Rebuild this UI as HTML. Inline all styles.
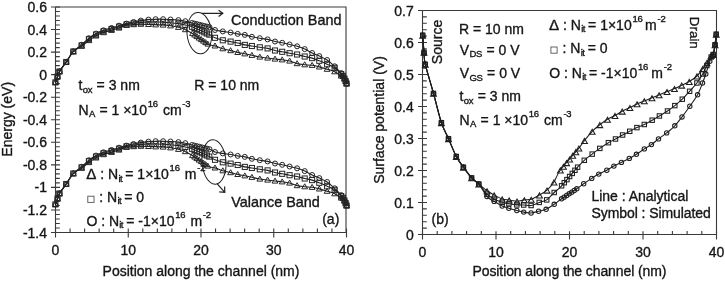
<!DOCTYPE html>
<html><head><meta charset="utf-8"><style>
html,body{margin:0;padding:0;background:#fff;}
body{width:725px;height:281px;overflow:hidden;font-family:"Liberation Sans",sans-serif;}
svg{display:block;}
text{stroke:#151515;stroke-width:0.35px;}
svg{will-change:transform;}
</style></head><body>
<svg width="725" height="281" viewBox="0 0 725 281" font-family="Liberation Sans, sans-serif">
<rect width="725" height="281" fill="#ffffff"/>
<g>
<path d="M55.5,7.0 H346.0 V232.5" fill="none" stroke="#3a3a3a" stroke-width="1.1"/>
<path d="M55.5,7.0 V232.5 H346.5" fill="none" stroke="#3a3a3a" stroke-width="1.1"/>
<path d="M51.0,7.00 H60.0 M55.5,11.51 H59.8 M55.5,16.02 H59.8 M55.5,20.53 H59.8 M55.5,25.04 H59.8 M51.0,29.55 H60.0 M55.5,34.06 H59.8 M55.5,38.57 H59.8 M55.5,43.08 H59.8 M55.5,47.59 H59.8 M51.0,52.10 H60.0 M55.5,56.61 H59.8 M55.5,61.12 H59.8 M55.5,65.63 H59.8 M55.5,70.14 H59.8 M51.0,74.65 H60.0 M55.5,79.16 H59.8 M55.5,83.67 H59.8 M55.5,88.18 H59.8 M55.5,92.69 H59.8 M51.0,97.20 H60.0 M55.5,101.71 H59.8 M55.5,106.22 H59.8 M55.5,110.73 H59.8 M55.5,115.24 H59.8 M51.0,119.75 H60.0 M55.5,124.26 H59.8 M55.5,128.77 H59.8 M55.5,133.28 H59.8 M55.5,137.79 H59.8 M51.0,142.30 H60.0 M55.5,146.81 H59.8 M55.5,151.32 H59.8 M55.5,155.83 H59.8 M55.5,160.34 H59.8 M51.0,164.85 H60.0 M55.5,169.36 H59.8 M55.5,173.87 H59.8 M55.5,178.38 H59.8 M55.5,182.89 H59.8 M51.0,187.40 H60.0 M55.5,191.91 H59.8 M55.5,196.42 H59.8 M55.5,200.93 H59.8 M55.5,205.44 H59.8 M51.0,209.95 H60.0 M55.5,214.46 H59.8 M55.5,218.97 H59.8 M55.5,223.48 H59.8 M55.5,227.99 H59.8 M51.0,232.50 H60.0 M55.50,228.5 V237.5 M70.05,228.5 V232.5 M84.60,228.5 V232.5 M99.15,228.5 V232.5 M113.70,228.5 V232.5 M128.25,228.5 V237.5 M142.80,228.5 V232.5 M157.35,228.5 V232.5 M171.90,228.5 V232.5 M186.45,228.5 V232.5 M201.00,228.5 V237.5 M215.55,228.5 V232.5 M230.10,228.5 V232.5 M244.65,228.5 V232.5 M259.20,228.5 V232.5 M273.75,228.5 V237.5 M288.30,228.5 V232.5 M302.85,228.5 V232.5 M317.40,228.5 V232.5 M331.95,228.5 V232.5 M346.50,228.5 V237.5" stroke="#3a3a3a" stroke-width="1.1" fill="none"/>
</g>
<g fill="#161616">
<text x="47.00" y="12.00" font-size="14" text-anchor="end" >0.6</text>
<text x="47.00" y="34.55" font-size="14" text-anchor="end" >0.4</text>
<text x="47.00" y="57.10" font-size="14" text-anchor="end" >0.2</text>
<text x="47.00" y="79.65" font-size="14" text-anchor="end" >0</text>
<text x="47.00" y="102.20" font-size="14" text-anchor="end" >-0.2</text>
<text x="47.00" y="124.75" font-size="14" text-anchor="end" >-0.4</text>
<text x="47.00" y="147.30" font-size="14" text-anchor="end" >-0.6</text>
<text x="47.00" y="169.85" font-size="14" text-anchor="end" >-0.8</text>
<text x="47.00" y="192.40" font-size="14" text-anchor="end" >-1</text>
<text x="47.00" y="214.95" font-size="14" text-anchor="end" >-1.2</text>
<text x="47.00" y="237.50" font-size="14" text-anchor="end" >-1.4</text>
<text x="55.50" y="255.20" font-size="14" text-anchor="middle" >0</text>
<text x="128.25" y="255.20" font-size="14" text-anchor="middle" >10</text>
<text x="201.00" y="255.20" font-size="14" text-anchor="middle" >20</text>
<text x="273.75" y="255.20" font-size="14" text-anchor="middle" >30</text>
<text x="346.50" y="255.20" font-size="14" text-anchor="middle" >40</text>
<text x="201.00" y="276.00" font-size="14" text-anchor="middle" >Position along the channel (nm)</text>
<text x="0.00" y="0.00" font-size="14" text-anchor="middle" transform="translate(11.8,119.3) rotate(-90)">Energy (eV)</text>
</g>
<path d="M55.40,82.40 C55.75,81.43 56.82,78.42 57.50,76.60 C58.18,74.78 58.05,73.93 59.50,71.50 C60.95,69.07 63.90,65.35 66.20,62.00 C68.50,58.65 70.73,54.29 73.30,51.42 C75.87,48.55 79.00,47.00 81.60,44.80 C84.20,42.60 86.50,40.07 88.90,38.20 C91.30,36.33 93.57,34.92 96.00,33.60 C98.43,32.28 100.92,31.23 103.50,30.30 C106.08,29.37 108.92,28.77 111.50,28.00 C114.08,27.23 116.50,26.43 119.00,25.70 C121.50,24.97 124.07,24.22 126.50,23.60 C128.93,22.98 131.20,22.50 133.60,22.00 C136.00,21.50 138.42,21.00 140.90,20.60 C143.38,20.20 146.05,19.83 148.50,19.60 C150.95,19.37 153.17,19.27 155.60,19.20 C158.03,19.13 160.62,19.15 163.10,19.20 C165.58,19.25 167.95,19.35 170.50,19.50 C173.05,19.65 175.93,19.82 178.40,20.10 C180.87,20.38 183.03,20.72 185.30,21.20 C187.57,21.68 187.97,22.00 192.00,23.00 C196.03,24.00 205.67,26.03 209.50,27.20 C213.33,28.37 212.78,29.30 215.00,30.00 C217.22,30.70 220.20,30.98 222.80,31.40 C225.40,31.82 228.12,32.08 230.60,32.50 C233.08,32.92 235.33,33.50 237.70,33.90 C240.07,34.30 242.43,34.42 244.80,34.90 C247.17,35.38 249.40,36.25 251.90,36.80 C254.40,37.35 257.18,37.77 259.80,38.20 C262.42,38.63 265.07,38.85 267.60,39.40 C270.13,39.95 272.57,40.93 275.00,41.50 C277.43,42.07 279.77,42.30 282.20,42.80 C284.63,43.30 287.12,43.92 289.60,44.50 C292.08,45.08 294.58,45.53 297.10,46.30 C299.62,47.07 302.20,47.98 304.70,49.10 C307.20,50.22 309.67,51.83 312.10,53.00 C314.53,54.17 316.80,54.93 319.30,56.10 C321.80,57.27 324.55,58.30 327.10,60.00 C329.65,61.70 332.25,64.12 334.60,66.30 C336.95,68.48 339.80,71.52 341.20,73.10 C342.60,74.68 342.45,74.88 343.00,75.80 C343.55,76.72 344.05,77.70 344.50,78.60 C344.95,79.50 345.35,80.37 345.70,81.20 C346.05,82.03 346.45,83.20 346.60,83.60" fill="none" stroke="#1e1e1e" stroke-width="1.1"/>
<g fill="none" stroke="#262626" stroke-width="1.0"><circle cx="55.40" cy="82.40" r="2.50"/><circle cx="57.50" cy="76.60" r="2.50"/><circle cx="59.50" cy="71.50" r="2.50"/><circle cx="66.20" cy="62.00" r="2.50"/><circle cx="73.30" cy="51.42" r="2.50"/><circle cx="81.60" cy="44.80" r="2.50"/><circle cx="88.90" cy="38.20" r="2.50"/><circle cx="96.00" cy="33.60" r="2.50"/><circle cx="103.50" cy="30.30" r="2.50"/><circle cx="111.50" cy="28.00" r="2.50"/><circle cx="119.00" cy="25.70" r="2.50"/><circle cx="126.50" cy="23.60" r="2.50"/><circle cx="133.60" cy="22.00" r="2.50"/><circle cx="140.90" cy="20.60" r="2.50"/><circle cx="148.50" cy="19.60" r="2.50"/><circle cx="155.60" cy="19.20" r="2.50"/><circle cx="163.10" cy="19.20" r="2.50"/><circle cx="170.50" cy="19.50" r="2.50"/><circle cx="178.40" cy="20.10" r="2.50"/><circle cx="185.30" cy="21.20" r="2.50"/><circle cx="192.00" cy="23.00" r="2.50"/><circle cx="194.50" cy="23.60" r="2.50"/><circle cx="197.00" cy="24.20" r="2.50"/><circle cx="199.50" cy="24.80" r="2.50"/><circle cx="202.00" cy="25.40" r="2.50"/><circle cx="204.50" cy="26.00" r="2.50"/><circle cx="207.00" cy="26.60" r="2.50"/><circle cx="209.50" cy="27.20" r="2.50"/><circle cx="215.00" cy="30.00" r="2.50"/><circle cx="222.80" cy="31.40" r="2.50"/><circle cx="230.60" cy="32.50" r="2.50"/><circle cx="237.70" cy="33.90" r="2.50"/><circle cx="244.80" cy="34.90" r="2.50"/><circle cx="251.90" cy="36.80" r="2.50"/><circle cx="259.80" cy="38.20" r="2.50"/><circle cx="267.60" cy="39.40" r="2.50"/><circle cx="275.00" cy="41.50" r="2.50"/><circle cx="282.20" cy="42.80" r="2.50"/><circle cx="289.60" cy="44.50" r="2.50"/><circle cx="297.10" cy="46.30" r="2.50"/><circle cx="304.70" cy="49.10" r="2.50"/><circle cx="312.10" cy="53.00" r="2.50"/><circle cx="319.30" cy="56.10" r="2.50"/><circle cx="327.10" cy="60.00" r="2.50"/><circle cx="334.60" cy="66.30" r="2.50"/><circle cx="341.20" cy="73.10" r="2.50"/><circle cx="343.00" cy="75.80" r="2.50"/><circle cx="344.50" cy="78.60" r="2.50"/><circle cx="345.70" cy="81.20" r="2.50"/><circle cx="346.60" cy="83.60" r="2.50"/></g>
<path d="M55.40,82.40 C55.75,81.43 56.82,78.42 57.50,76.60 C58.18,74.78 58.05,73.93 59.50,71.50 C60.95,69.07 63.90,65.33 66.20,62.00 C68.50,58.67 70.73,54.27 73.30,51.50 C75.87,48.73 79.00,47.45 81.60,45.40 C84.20,43.35 86.50,41.00 88.90,39.20 C91.30,37.40 93.57,35.92 96.00,34.60 C98.43,33.28 100.92,32.23 103.50,31.30 C106.08,30.37 108.92,29.77 111.50,29.00 C114.08,28.23 116.50,27.47 119.00,26.70 C121.50,25.93 124.07,24.97 126.50,24.40 C128.93,23.83 131.20,23.63 133.60,23.30 C136.00,22.97 138.42,22.63 140.90,22.40 C143.38,22.17 146.05,21.97 148.50,21.90 C150.95,21.83 153.17,21.95 155.60,22.00 C158.03,22.05 160.62,22.08 163.10,22.20 C165.58,22.32 167.95,22.47 170.50,22.70 C173.05,22.93 175.93,23.22 178.40,23.60 C180.87,23.98 183.03,24.47 185.30,25.00 C187.57,25.53 188.00,25.20 192.00,26.80 C196.00,28.40 205.47,32.77 209.30,34.60 C213.13,36.43 212.75,36.85 215.00,37.80 C217.25,38.75 220.20,39.67 222.80,40.30 C225.40,40.93 228.12,41.15 230.60,41.60 C233.08,42.05 235.33,42.45 237.70,43.00 C240.07,43.55 242.43,44.40 244.80,44.90 C247.17,45.40 249.40,45.60 251.90,46.00 C254.40,46.40 257.18,46.90 259.80,47.30 C262.42,47.70 265.07,47.87 267.60,48.40 C270.13,48.93 272.57,49.93 275.00,50.50 C277.43,51.07 279.77,51.35 282.20,51.80 C284.63,52.25 287.12,52.75 289.60,53.20 C292.08,53.65 294.58,53.95 297.10,54.50 C299.62,55.05 302.20,55.90 304.70,56.50 C307.20,57.10 309.67,57.38 312.10,58.10 C314.53,58.82 316.80,59.77 319.30,60.80 C321.80,61.83 324.55,63.13 327.10,64.30 C329.65,65.47 332.25,66.17 334.60,67.80 C336.95,69.43 339.80,72.77 341.20,74.10 C342.60,75.43 342.45,75.05 343.00,75.80 C343.55,76.55 344.05,77.70 344.50,78.60 C344.95,79.50 345.35,80.37 345.70,81.20 C346.05,82.03 346.45,83.20 346.60,83.60" fill="none" stroke="#1e1e1e" stroke-width="1.1"/>
<g fill="none" stroke="#262626" stroke-width="1.0"><rect x="52.85" y="79.85" width="5.10" height="5.10"/><rect x="54.95" y="74.05" width="5.10" height="5.10"/><rect x="56.95" y="68.95" width="5.10" height="5.10"/><rect x="63.65" y="59.45" width="5.10" height="5.10"/><rect x="70.75" y="48.95" width="5.10" height="5.10"/><rect x="79.05" y="42.85" width="5.10" height="5.10"/><rect x="86.35" y="36.65" width="5.10" height="5.10"/><rect x="93.45" y="32.05" width="5.10" height="5.10"/><rect x="100.95" y="28.75" width="5.10" height="5.10"/><rect x="108.95" y="26.45" width="5.10" height="5.10"/><rect x="116.45" y="24.15" width="5.10" height="5.10"/><rect x="123.95" y="21.85" width="5.10" height="5.10"/><rect x="131.05" y="20.75" width="5.10" height="5.10"/><rect x="138.35" y="19.85" width="5.10" height="5.10"/><rect x="145.95" y="19.35" width="5.10" height="5.10"/><rect x="153.05" y="19.45" width="5.10" height="5.10"/><rect x="160.55" y="19.65" width="5.10" height="5.10"/><rect x="167.95" y="20.15" width="5.10" height="5.10"/><rect x="175.85" y="21.05" width="5.10" height="5.10"/><rect x="182.75" y="22.45" width="5.10" height="5.10"/><rect x="189.45" y="24.25" width="5.10" height="5.10"/><rect x="191.92" y="25.36" width="5.10" height="5.10"/><rect x="194.39" y="26.48" width="5.10" height="5.10"/><rect x="196.86" y="27.59" width="5.10" height="5.10"/><rect x="199.34" y="28.71" width="5.10" height="5.10"/><rect x="201.81" y="29.82" width="5.10" height="5.10"/><rect x="204.28" y="30.94" width="5.10" height="5.10"/><rect x="206.75" y="32.05" width="5.10" height="5.10"/><rect x="212.45" y="35.25" width="5.10" height="5.10"/><rect x="220.25" y="37.75" width="5.10" height="5.10"/><rect x="228.05" y="39.05" width="5.10" height="5.10"/><rect x="235.15" y="40.45" width="5.10" height="5.10"/><rect x="242.25" y="42.35" width="5.10" height="5.10"/><rect x="249.35" y="43.45" width="5.10" height="5.10"/><rect x="257.25" y="44.75" width="5.10" height="5.10"/><rect x="265.05" y="45.85" width="5.10" height="5.10"/><rect x="272.45" y="47.95" width="5.10" height="5.10"/><rect x="279.65" y="49.25" width="5.10" height="5.10"/><rect x="287.05" y="50.65" width="5.10" height="5.10"/><rect x="294.55" y="51.95" width="5.10" height="5.10"/><rect x="302.15" y="53.95" width="5.10" height="5.10"/><rect x="309.55" y="55.55" width="5.10" height="5.10"/><rect x="316.75" y="58.25" width="5.10" height="5.10"/><rect x="324.55" y="61.75" width="5.10" height="5.10"/><rect x="332.05" y="65.25" width="5.10" height="5.10"/><rect x="338.65" y="71.55" width="5.10" height="5.10"/><rect x="340.45" y="73.25" width="5.10" height="5.10"/><rect x="341.95" y="76.05" width="5.10" height="5.10"/><rect x="343.15" y="78.65" width="5.10" height="5.10"/><rect x="344.05" y="81.05" width="5.10" height="5.10"/></g>
<path d="M55.40,82.40 C55.75,81.43 56.82,78.42 57.50,76.60 C58.18,74.78 58.05,73.93 59.50,71.50 C60.95,69.07 63.90,65.32 66.20,62.00 C68.50,58.68 70.73,54.24 73.30,51.61 C75.87,48.97 79.00,48.03 81.60,46.18 C84.20,44.33 86.50,42.21 88.90,40.50 C91.30,38.79 93.57,37.22 96.00,35.90 C98.43,34.58 100.92,33.53 103.50,32.60 C106.08,31.67 108.92,31.07 111.50,30.30 C114.08,29.53 116.50,28.83 119.00,28.00 C121.50,27.17 124.07,25.87 126.50,25.30 C128.93,24.73 131.20,24.78 133.60,24.60 C136.00,24.42 138.42,24.23 140.90,24.20 C143.38,24.17 146.05,24.30 148.50,24.40 C150.95,24.50 153.17,24.70 155.60,24.80 C158.03,24.90 160.62,24.83 163.10,25.00 C165.58,25.17 167.95,25.42 170.50,25.80 C173.05,26.18 175.93,26.67 178.40,27.30 C180.87,27.93 182.95,28.57 185.30,29.60 C187.65,30.63 188.75,31.10 192.50,33.50 C196.25,35.90 204.05,41.93 207.80,44.00 C211.55,46.07 212.50,45.12 215.00,45.90 C217.50,46.68 220.20,47.92 222.80,48.70 C225.40,49.48 228.12,49.98 230.60,50.60 C233.08,51.22 235.33,51.87 237.70,52.40 C240.07,52.93 242.43,53.32 244.80,53.80 C247.17,54.28 249.40,54.77 251.90,55.30 C254.40,55.83 257.18,56.55 259.80,57.00 C262.42,57.45 265.07,57.67 267.60,58.00 C270.13,58.33 272.57,58.70 275.00,59.00 C277.43,59.30 279.77,59.47 282.20,59.80 C284.63,60.13 287.12,60.37 289.60,61.00 C292.08,61.63 294.58,62.98 297.10,63.60 C299.62,64.22 302.20,64.42 304.70,64.70 C307.20,64.98 309.67,64.93 312.10,65.30 C314.53,65.67 316.80,66.25 319.30,66.90 C321.80,67.55 324.55,68.40 327.10,69.20 C329.65,70.00 332.25,70.57 334.60,71.70 C336.95,72.83 339.80,75.32 341.20,76.00 C342.60,76.68 342.45,75.37 343.00,75.80 C343.55,76.23 344.05,77.70 344.50,78.60 C344.95,79.50 345.35,80.37 345.70,81.20 C346.05,82.03 346.45,83.20 346.60,83.60" fill="none" stroke="#1e1e1e" stroke-width="1.1"/>
<g fill="none" stroke="#262626" stroke-width="1.0"><path d="M55.40,79.50 L58.30,84.50 L52.50,84.50 Z"/><path d="M57.50,73.70 L60.40,78.70 L54.60,78.70 Z"/><path d="M59.50,68.60 L62.40,73.60 L56.60,73.60 Z"/><path d="M66.20,59.10 L69.10,64.10 L63.30,64.10 Z"/><path d="M73.30,48.71 L76.20,53.71 L70.40,53.71 Z"/><path d="M81.60,43.28 L84.50,48.28 L78.70,48.28 Z"/><path d="M88.90,37.60 L91.80,42.60 L86.00,42.60 Z"/><path d="M96.00,33.00 L98.90,38.00 L93.10,38.00 Z"/><path d="M103.50,29.70 L106.40,34.70 L100.60,34.70 Z"/><path d="M111.50,27.40 L114.40,32.40 L108.60,32.40 Z"/><path d="M119.00,25.10 L121.90,30.10 L116.10,30.10 Z"/><path d="M126.50,22.40 L129.40,27.40 L123.60,27.40 Z"/><path d="M133.60,21.70 L136.50,26.70 L130.70,26.70 Z"/><path d="M140.90,21.30 L143.80,26.30 L138.00,26.30 Z"/><path d="M148.50,21.50 L151.40,26.50 L145.60,26.50 Z"/><path d="M155.60,21.90 L158.50,26.90 L152.70,26.90 Z"/><path d="M163.10,22.10 L166.00,27.10 L160.20,27.10 Z"/><path d="M170.50,22.90 L173.40,27.90 L167.60,27.90 Z"/><path d="M178.40,24.40 L181.30,29.40 L175.50,29.40 Z"/><path d="M185.30,26.70 L188.20,31.70 L182.40,31.70 Z"/><path d="M192.50,30.60 L195.40,35.60 L189.60,35.60 Z"/><path d="M194.69,32.10 L197.59,37.10 L191.79,37.10 Z"/><path d="M196.87,33.60 L199.77,38.60 L193.97,38.60 Z"/><path d="M199.06,35.10 L201.96,40.10 L196.16,40.10 Z"/><path d="M201.24,36.60 L204.14,41.60 L198.34,41.60 Z"/><path d="M203.43,38.10 L206.33,43.10 L200.53,43.10 Z"/><path d="M205.61,39.60 L208.51,44.60 L202.71,44.60 Z"/><path d="M207.80,41.10 L210.70,46.10 L204.90,46.10 Z"/><path d="M215.00,43.00 L217.90,48.00 L212.10,48.00 Z"/><path d="M222.80,45.80 L225.70,50.80 L219.90,50.80 Z"/><path d="M230.60,47.70 L233.50,52.70 L227.70,52.70 Z"/><path d="M237.70,49.50 L240.60,54.50 L234.80,54.50 Z"/><path d="M244.80,50.90 L247.70,55.90 L241.90,55.90 Z"/><path d="M251.90,52.40 L254.80,57.40 L249.00,57.40 Z"/><path d="M259.80,54.10 L262.70,59.10 L256.90,59.10 Z"/><path d="M267.60,55.10 L270.50,60.10 L264.70,60.10 Z"/><path d="M275.00,56.10 L277.90,61.10 L272.10,61.10 Z"/><path d="M282.20,56.90 L285.10,61.90 L279.30,61.90 Z"/><path d="M289.60,58.10 L292.50,63.10 L286.70,63.10 Z"/><path d="M297.10,60.70 L300.00,65.70 L294.20,65.70 Z"/><path d="M304.70,61.80 L307.60,66.80 L301.80,66.80 Z"/><path d="M312.10,62.40 L315.00,67.40 L309.20,67.40 Z"/><path d="M319.30,64.00 L322.20,69.00 L316.40,69.00 Z"/><path d="M327.10,66.30 L330.00,71.30 L324.20,71.30 Z"/><path d="M334.60,68.80 L337.50,73.80 L331.70,73.80 Z"/><path d="M341.20,73.10 L344.10,78.10 L338.30,78.10 Z"/><path d="M343.00,72.90 L345.90,77.90 L340.10,77.90 Z"/><path d="M344.50,75.70 L347.40,80.70 L341.60,80.70 Z"/><path d="M345.70,78.30 L348.60,83.30 L342.80,83.30 Z"/><path d="M346.60,80.70 L349.50,85.70 L343.70,85.70 Z"/></g>
<path d="M55.40,204.40 C55.75,203.43 56.82,200.42 57.50,198.60 C58.18,196.78 58.05,195.93 59.50,193.50 C60.95,191.07 63.90,187.35 66.20,184.00 C68.50,180.65 70.73,176.29 73.30,173.42 C75.87,170.55 79.00,169.00 81.60,166.80 C84.20,164.60 86.50,162.07 88.90,160.20 C91.30,158.33 93.57,156.92 96.00,155.60 C98.43,154.28 100.92,153.23 103.50,152.30 C106.08,151.37 108.92,150.77 111.50,150.00 C114.08,149.23 116.50,148.43 119.00,147.70 C121.50,146.97 124.07,146.22 126.50,145.60 C128.93,144.98 131.20,144.50 133.60,144.00 C136.00,143.50 138.42,143.00 140.90,142.60 C143.38,142.20 146.05,141.83 148.50,141.60 C150.95,141.37 153.17,141.27 155.60,141.20 C158.03,141.13 160.62,141.15 163.10,141.20 C165.58,141.25 167.95,141.35 170.50,141.50 C173.05,141.65 175.93,141.82 178.40,142.10 C180.87,142.38 183.03,142.72 185.30,143.20 C187.57,143.68 187.97,144.00 192.00,145.00 C196.03,146.00 205.67,148.03 209.50,149.20 C213.33,150.37 212.78,151.30 215.00,152.00 C217.22,152.70 220.20,152.98 222.80,153.40 C225.40,153.82 228.12,154.08 230.60,154.50 C233.08,154.92 235.33,155.50 237.70,155.90 C240.07,156.30 242.43,156.42 244.80,156.90 C247.17,157.38 249.40,158.25 251.90,158.80 C254.40,159.35 257.18,159.77 259.80,160.20 C262.42,160.63 265.07,160.85 267.60,161.40 C270.13,161.95 272.57,162.93 275.00,163.50 C277.43,164.07 279.77,164.30 282.20,164.80 C284.63,165.30 287.12,165.92 289.60,166.50 C292.08,167.08 294.58,167.53 297.10,168.30 C299.62,169.07 302.20,169.98 304.70,171.10 C307.20,172.22 309.67,173.83 312.10,175.00 C314.53,176.17 316.80,176.93 319.30,178.10 C321.80,179.27 324.55,180.30 327.10,182.00 C329.65,183.70 332.25,186.12 334.60,188.30 C336.95,190.48 339.80,193.52 341.20,195.10 C342.60,196.68 342.45,196.88 343.00,197.80 C343.55,198.72 344.05,199.70 344.50,200.60 C344.95,201.50 345.35,202.37 345.70,203.20 C346.05,204.03 346.45,205.20 346.60,205.60" fill="none" stroke="#1e1e1e" stroke-width="1.1"/>
<g fill="none" stroke="#262626" stroke-width="1.0"><circle cx="55.40" cy="204.40" r="2.50"/><circle cx="57.50" cy="198.60" r="2.50"/><circle cx="59.50" cy="193.50" r="2.50"/><circle cx="66.20" cy="184.00" r="2.50"/><circle cx="73.30" cy="173.42" r="2.50"/><circle cx="81.60" cy="166.80" r="2.50"/><circle cx="88.90" cy="160.20" r="2.50"/><circle cx="96.00" cy="155.60" r="2.50"/><circle cx="103.50" cy="152.30" r="2.50"/><circle cx="111.50" cy="150.00" r="2.50"/><circle cx="119.00" cy="147.70" r="2.50"/><circle cx="126.50" cy="145.60" r="2.50"/><circle cx="133.60" cy="144.00" r="2.50"/><circle cx="140.90" cy="142.60" r="2.50"/><circle cx="148.50" cy="141.60" r="2.50"/><circle cx="155.60" cy="141.20" r="2.50"/><circle cx="163.10" cy="141.20" r="2.50"/><circle cx="170.50" cy="141.50" r="2.50"/><circle cx="178.40" cy="142.10" r="2.50"/><circle cx="185.30" cy="143.20" r="2.50"/><circle cx="192.00" cy="145.00" r="2.50"/><circle cx="194.50" cy="145.60" r="2.50"/><circle cx="197.00" cy="146.20" r="2.50"/><circle cx="199.50" cy="146.80" r="2.50"/><circle cx="202.00" cy="147.40" r="2.50"/><circle cx="204.50" cy="148.00" r="2.50"/><circle cx="207.00" cy="148.60" r="2.50"/><circle cx="209.50" cy="149.20" r="2.50"/><circle cx="215.00" cy="152.00" r="2.50"/><circle cx="222.80" cy="153.40" r="2.50"/><circle cx="230.60" cy="154.50" r="2.50"/><circle cx="237.70" cy="155.90" r="2.50"/><circle cx="244.80" cy="156.90" r="2.50"/><circle cx="251.90" cy="158.80" r="2.50"/><circle cx="259.80" cy="160.20" r="2.50"/><circle cx="267.60" cy="161.40" r="2.50"/><circle cx="275.00" cy="163.50" r="2.50"/><circle cx="282.20" cy="164.80" r="2.50"/><circle cx="289.60" cy="166.50" r="2.50"/><circle cx="297.10" cy="168.30" r="2.50"/><circle cx="304.70" cy="171.10" r="2.50"/><circle cx="312.10" cy="175.00" r="2.50"/><circle cx="319.30" cy="178.10" r="2.50"/><circle cx="327.10" cy="182.00" r="2.50"/><circle cx="334.60" cy="188.30" r="2.50"/><circle cx="341.20" cy="195.10" r="2.50"/><circle cx="343.00" cy="197.80" r="2.50"/><circle cx="344.50" cy="200.60" r="2.50"/><circle cx="345.70" cy="203.20" r="2.50"/><circle cx="346.60" cy="205.60" r="2.50"/></g>
<path d="M55.40,204.40 C55.75,203.43 56.82,200.42 57.50,198.60 C58.18,196.78 58.05,195.93 59.50,193.50 C60.95,191.07 63.90,187.33 66.20,184.00 C68.50,180.67 70.73,176.27 73.30,173.50 C75.87,170.73 79.00,169.45 81.60,167.40 C84.20,165.35 86.50,163.00 88.90,161.20 C91.30,159.40 93.57,157.92 96.00,156.60 C98.43,155.28 100.92,154.23 103.50,153.30 C106.08,152.37 108.92,151.77 111.50,151.00 C114.08,150.23 116.50,149.47 119.00,148.70 C121.50,147.93 124.07,146.97 126.50,146.40 C128.93,145.83 131.20,145.63 133.60,145.30 C136.00,144.97 138.42,144.63 140.90,144.40 C143.38,144.17 146.05,143.97 148.50,143.90 C150.95,143.83 153.17,143.95 155.60,144.00 C158.03,144.05 160.62,144.08 163.10,144.20 C165.58,144.32 167.95,144.47 170.50,144.70 C173.05,144.93 175.93,145.22 178.40,145.60 C180.87,145.98 183.03,146.47 185.30,147.00 C187.57,147.53 188.00,147.20 192.00,148.80 C196.00,150.40 205.47,154.77 209.30,156.60 C213.13,158.43 212.75,158.85 215.00,159.80 C217.25,160.75 220.20,161.67 222.80,162.30 C225.40,162.93 228.12,163.15 230.60,163.60 C233.08,164.05 235.33,164.45 237.70,165.00 C240.07,165.55 242.43,166.40 244.80,166.90 C247.17,167.40 249.40,167.60 251.90,168.00 C254.40,168.40 257.18,168.90 259.80,169.30 C262.42,169.70 265.07,169.87 267.60,170.40 C270.13,170.93 272.57,171.93 275.00,172.50 C277.43,173.07 279.77,173.35 282.20,173.80 C284.63,174.25 287.12,174.75 289.60,175.20 C292.08,175.65 294.58,175.95 297.10,176.50 C299.62,177.05 302.20,177.90 304.70,178.50 C307.20,179.10 309.67,179.38 312.10,180.10 C314.53,180.82 316.80,181.77 319.30,182.80 C321.80,183.83 324.55,185.13 327.10,186.30 C329.65,187.47 332.25,188.17 334.60,189.80 C336.95,191.43 339.80,194.77 341.20,196.10 C342.60,197.43 342.45,197.05 343.00,197.80 C343.55,198.55 344.05,199.70 344.50,200.60 C344.95,201.50 345.35,202.37 345.70,203.20 C346.05,204.03 346.45,205.20 346.60,205.60" fill="none" stroke="#1e1e1e" stroke-width="1.1"/>
<g fill="none" stroke="#262626" stroke-width="1.0"><rect x="52.85" y="201.85" width="5.10" height="5.10"/><rect x="54.95" y="196.05" width="5.10" height="5.10"/><rect x="56.95" y="190.95" width="5.10" height="5.10"/><rect x="63.65" y="181.45" width="5.10" height="5.10"/><rect x="70.75" y="170.95" width="5.10" height="5.10"/><rect x="79.05" y="164.85" width="5.10" height="5.10"/><rect x="86.35" y="158.65" width="5.10" height="5.10"/><rect x="93.45" y="154.05" width="5.10" height="5.10"/><rect x="100.95" y="150.75" width="5.10" height="5.10"/><rect x="108.95" y="148.45" width="5.10" height="5.10"/><rect x="116.45" y="146.15" width="5.10" height="5.10"/><rect x="123.95" y="143.85" width="5.10" height="5.10"/><rect x="131.05" y="142.75" width="5.10" height="5.10"/><rect x="138.35" y="141.85" width="5.10" height="5.10"/><rect x="145.95" y="141.35" width="5.10" height="5.10"/><rect x="153.05" y="141.45" width="5.10" height="5.10"/><rect x="160.55" y="141.65" width="5.10" height="5.10"/><rect x="167.95" y="142.15" width="5.10" height="5.10"/><rect x="175.85" y="143.05" width="5.10" height="5.10"/><rect x="182.75" y="144.45" width="5.10" height="5.10"/><rect x="189.45" y="146.25" width="5.10" height="5.10"/><rect x="191.92" y="147.36" width="5.10" height="5.10"/><rect x="194.39" y="148.48" width="5.10" height="5.10"/><rect x="196.86" y="149.59" width="5.10" height="5.10"/><rect x="199.34" y="150.71" width="5.10" height="5.10"/><rect x="201.81" y="151.82" width="5.10" height="5.10"/><rect x="204.28" y="152.94" width="5.10" height="5.10"/><rect x="206.75" y="154.05" width="5.10" height="5.10"/><rect x="212.45" y="157.25" width="5.10" height="5.10"/><rect x="220.25" y="159.75" width="5.10" height="5.10"/><rect x="228.05" y="161.05" width="5.10" height="5.10"/><rect x="235.15" y="162.45" width="5.10" height="5.10"/><rect x="242.25" y="164.35" width="5.10" height="5.10"/><rect x="249.35" y="165.45" width="5.10" height="5.10"/><rect x="257.25" y="166.75" width="5.10" height="5.10"/><rect x="265.05" y="167.85" width="5.10" height="5.10"/><rect x="272.45" y="169.95" width="5.10" height="5.10"/><rect x="279.65" y="171.25" width="5.10" height="5.10"/><rect x="287.05" y="172.65" width="5.10" height="5.10"/><rect x="294.55" y="173.95" width="5.10" height="5.10"/><rect x="302.15" y="175.95" width="5.10" height="5.10"/><rect x="309.55" y="177.55" width="5.10" height="5.10"/><rect x="316.75" y="180.25" width="5.10" height="5.10"/><rect x="324.55" y="183.75" width="5.10" height="5.10"/><rect x="332.05" y="187.25" width="5.10" height="5.10"/><rect x="338.65" y="193.55" width="5.10" height="5.10"/><rect x="340.45" y="195.25" width="5.10" height="5.10"/><rect x="341.95" y="198.05" width="5.10" height="5.10"/><rect x="343.15" y="200.65" width="5.10" height="5.10"/><rect x="344.05" y="203.05" width="5.10" height="5.10"/></g>
<path d="M55.40,204.40 C55.75,203.43 56.82,200.42 57.50,198.60 C58.18,196.78 58.05,195.93 59.50,193.50 C60.95,191.07 63.90,187.32 66.20,184.00 C68.50,180.68 70.73,176.24 73.30,173.61 C75.87,170.97 79.00,170.03 81.60,168.18 C84.20,166.33 86.50,164.21 88.90,162.50 C91.30,160.79 93.57,159.22 96.00,157.90 C98.43,156.58 100.92,155.53 103.50,154.60 C106.08,153.67 108.92,153.07 111.50,152.30 C114.08,151.53 116.50,150.83 119.00,150.00 C121.50,149.17 124.07,147.87 126.50,147.30 C128.93,146.73 131.20,146.78 133.60,146.60 C136.00,146.42 138.42,146.23 140.90,146.20 C143.38,146.17 146.05,146.30 148.50,146.40 C150.95,146.50 153.17,146.70 155.60,146.80 C158.03,146.90 160.62,146.83 163.10,147.00 C165.58,147.17 167.95,147.42 170.50,147.80 C173.05,148.18 175.93,148.67 178.40,149.30 C180.87,149.93 182.95,150.57 185.30,151.60 C187.65,152.63 188.75,153.10 192.50,155.50 C196.25,157.90 204.05,163.93 207.80,166.00 C211.55,168.07 212.50,167.12 215.00,167.90 C217.50,168.68 220.20,169.92 222.80,170.70 C225.40,171.48 228.12,171.98 230.60,172.60 C233.08,173.22 235.33,173.87 237.70,174.40 C240.07,174.93 242.43,175.32 244.80,175.80 C247.17,176.28 249.40,176.77 251.90,177.30 C254.40,177.83 257.18,178.55 259.80,179.00 C262.42,179.45 265.07,179.67 267.60,180.00 C270.13,180.33 272.57,180.70 275.00,181.00 C277.43,181.30 279.77,181.47 282.20,181.80 C284.63,182.13 287.12,182.37 289.60,183.00 C292.08,183.63 294.58,184.98 297.10,185.60 C299.62,186.22 302.20,186.42 304.70,186.70 C307.20,186.98 309.67,186.93 312.10,187.30 C314.53,187.67 316.80,188.25 319.30,188.90 C321.80,189.55 324.55,190.40 327.10,191.20 C329.65,192.00 332.25,192.57 334.60,193.70 C336.95,194.83 339.80,197.32 341.20,198.00 C342.60,198.68 342.45,197.37 343.00,197.80 C343.55,198.23 344.05,199.70 344.50,200.60 C344.95,201.50 345.35,202.37 345.70,203.20 C346.05,204.03 346.45,205.20 346.60,205.60" fill="none" stroke="#1e1e1e" stroke-width="1.1"/>
<g fill="none" stroke="#262626" stroke-width="1.0"><path d="M55.40,201.50 L58.30,206.50 L52.50,206.50 Z"/><path d="M57.50,195.70 L60.40,200.70 L54.60,200.70 Z"/><path d="M59.50,190.60 L62.40,195.60 L56.60,195.60 Z"/><path d="M66.20,181.10 L69.10,186.10 L63.30,186.10 Z"/><path d="M73.30,170.71 L76.20,175.71 L70.40,175.71 Z"/><path d="M81.60,165.28 L84.50,170.28 L78.70,170.28 Z"/><path d="M88.90,159.60 L91.80,164.60 L86.00,164.60 Z"/><path d="M96.00,155.00 L98.90,160.00 L93.10,160.00 Z"/><path d="M103.50,151.70 L106.40,156.70 L100.60,156.70 Z"/><path d="M111.50,149.40 L114.40,154.40 L108.60,154.40 Z"/><path d="M119.00,147.10 L121.90,152.10 L116.10,152.10 Z"/><path d="M126.50,144.40 L129.40,149.40 L123.60,149.40 Z"/><path d="M133.60,143.70 L136.50,148.70 L130.70,148.70 Z"/><path d="M140.90,143.30 L143.80,148.30 L138.00,148.30 Z"/><path d="M148.50,143.50 L151.40,148.50 L145.60,148.50 Z"/><path d="M155.60,143.90 L158.50,148.90 L152.70,148.90 Z"/><path d="M163.10,144.10 L166.00,149.10 L160.20,149.10 Z"/><path d="M170.50,144.90 L173.40,149.90 L167.60,149.90 Z"/><path d="M178.40,146.40 L181.30,151.40 L175.50,151.40 Z"/><path d="M185.30,148.70 L188.20,153.70 L182.40,153.70 Z"/><path d="M192.50,152.60 L195.40,157.60 L189.60,157.60 Z"/><path d="M194.69,154.10 L197.59,159.10 L191.79,159.10 Z"/><path d="M196.87,155.60 L199.77,160.60 L193.97,160.60 Z"/><path d="M199.06,157.10 L201.96,162.10 L196.16,162.10 Z"/><path d="M201.24,158.60 L204.14,163.60 L198.34,163.60 Z"/><path d="M203.43,160.10 L206.33,165.10 L200.53,165.10 Z"/><path d="M205.61,161.60 L208.51,166.60 L202.71,166.60 Z"/><path d="M207.80,163.10 L210.70,168.10 L204.90,168.10 Z"/><path d="M215.00,165.00 L217.90,170.00 L212.10,170.00 Z"/><path d="M222.80,167.80 L225.70,172.80 L219.90,172.80 Z"/><path d="M230.60,169.70 L233.50,174.70 L227.70,174.70 Z"/><path d="M237.70,171.50 L240.60,176.50 L234.80,176.50 Z"/><path d="M244.80,172.90 L247.70,177.90 L241.90,177.90 Z"/><path d="M251.90,174.40 L254.80,179.40 L249.00,179.40 Z"/><path d="M259.80,176.10 L262.70,181.10 L256.90,181.10 Z"/><path d="M267.60,177.10 L270.50,182.10 L264.70,182.10 Z"/><path d="M275.00,178.10 L277.90,183.10 L272.10,183.10 Z"/><path d="M282.20,178.90 L285.10,183.90 L279.30,183.90 Z"/><path d="M289.60,180.10 L292.50,185.10 L286.70,185.10 Z"/><path d="M297.10,182.70 L300.00,187.70 L294.20,187.70 Z"/><path d="M304.70,183.80 L307.60,188.80 L301.80,188.80 Z"/><path d="M312.10,184.40 L315.00,189.40 L309.20,189.40 Z"/><path d="M319.30,186.00 L322.20,191.00 L316.40,191.00 Z"/><path d="M327.10,188.30 L330.00,193.30 L324.20,193.30 Z"/><path d="M334.60,190.80 L337.50,195.80 L331.70,195.80 Z"/><path d="M341.20,195.10 L344.10,200.10 L338.30,200.10 Z"/><path d="M343.00,194.90 L345.90,199.90 L340.10,199.90 Z"/><path d="M344.50,197.70 L347.40,202.70 L341.60,202.70 Z"/><path d="M345.70,200.30 L348.60,205.30 L342.80,205.30 Z"/><path d="M346.60,202.70 L349.50,207.70 L343.70,207.70 Z"/></g>
<g fill="none" stroke="#222" stroke-width="1">
<ellipse cx="199.3" cy="33.2" rx="12.3" ry="20.7" transform="rotate(-5 199.3 33.2)"/>
<path d="M201.5,13.3 H222.5 M218.6,10.3 L222.8,13.3 L218.6,16.6" stroke-width="1.25"/>
<ellipse cx="214" cy="162" rx="12" ry="22.2" transform="rotate(-4 214 162)"/>
<path d="M217.2,183.8 L224.6,192.2 M224.6,186.4 L224.8,192.4 L219.2,191.8" stroke-width="1.2"/>
</g>
<g fill="#161616">
<text x="231.00" y="24.80" font-size="14.4" text-anchor="start" >Conduction Band</text>
<text x="231.30" y="206.90" font-size="14.4" text-anchor="start" >Valance Band</text>
<text x="322.20" y="224.00" font-size="14" text-anchor="start" >(a)</text>
<text x="78.50" y="90.40" font-size="14" text-anchor="start" ><tspan dy="0.00">t</tspan><tspan dy="2.20" font-size="9.5" letter-spacing="-0.3" dx="0.3">ox</tspan><tspan dy="-2.20" dx="0.6"> = 3 nm</tspan></text>
<text x="194.30" y="90.40" font-size="14" text-anchor="start" >R = 10 nm</text>
<text x="78.50" y="114.80" font-size="14" text-anchor="start" ><tspan dy="0.00">N</tspan><tspan dy="2.20" font-size="9.5" letter-spacing="-0.3" dx="0.3">A</tspan><tspan dy="-2.20" dx="0.6"> = 1 ×10</tspan><tspan dy="-8.00" font-size="9.5" letter-spacing="-0.2" dx="0.7">16</tspan><tspan dy="8.00" dx="1.2"> cm</tspan><tspan dy="-8.00" font-size="9.5" letter-spacing="-0.2" dx="0.7">-3</tspan></text>
<text x="86.20" y="179.30" font-size="14" text-anchor="start" ><tspan dy="0.00"><tspan font-size="15.2">Δ</tspan> : N</tspan><tspan dy="2.20" font-size="9.5" letter-spacing="-0.6" dx="0.3">it</tspan><tspan dy="-2.20" dx="-0.6"> = 1×10</tspan><tspan dy="-8.00" font-size="9.5" letter-spacing="-0.2" dx="0.7">16</tspan><tspan dy="8.00" dx="1.2"> m</tspan><tspan dy="-8.00" font-size="9.5" letter-spacing="-0.2" dx="0.7">-2</tspan></text>
<text x="99.20" y="202.20" font-size="14" text-anchor="start" ><tspan dy="0.00">: N</tspan><tspan dy="2.20" font-size="9.5" letter-spacing="-0.6" dx="0.3">it</tspan><tspan dy="-2.20" dx="-0.6"> = 0</tspan></text>
<text x="86.40" y="226.20" font-size="14" text-anchor="start" ><tspan dy="0.00">O : N</tspan><tspan dy="2.20" font-size="9.5" letter-spacing="-0.6" dx="0.3">it</tspan><tspan dy="-2.20" dx="-0.6"> = -1×10</tspan><tspan dy="-8.00" font-size="9.5" letter-spacing="-0.2" dx="0.7">16</tspan><tspan dy="8.00" dx="1.2"> m</tspan><tspan dy="-8.00" font-size="9.5" letter-spacing="-0.2" dx="0.7">-2</tspan></text>
</g>
<rect x="87.8" y="196.2" width="6.2" height="6.2" fill="none" stroke="#555" stroke-width="0.9"/>
<path d="M422.5,10.5 H716.5 V234.5" fill="none" stroke="#3a3a3a" stroke-width="1.1"/>
<path d="M422.5,10.5 V234.5 H716.5" fill="none" stroke="#3a3a3a" stroke-width="1.1"/>
<path d="M418.0,10.50 H427.0 M422.5,16.90 H426.8 M422.5,23.30 H426.8 M422.5,29.70 H426.8 M422.5,36.10 H426.8 M418.0,42.50 H427.0 M422.5,48.90 H426.8 M422.5,55.30 H426.8 M422.5,61.70 H426.8 M422.5,68.10 H426.8 M418.0,74.50 H427.0 M422.5,80.90 H426.8 M422.5,87.30 H426.8 M422.5,93.70 H426.8 M422.5,100.10 H426.8 M418.0,106.50 H427.0 M422.5,112.90 H426.8 M422.5,119.30 H426.8 M422.5,125.70 H426.8 M422.5,132.10 H426.8 M418.0,138.50 H427.0 M422.5,144.90 H426.8 M422.5,151.30 H426.8 M422.5,157.70 H426.8 M422.5,164.10 H426.8 M418.0,170.50 H427.0 M422.5,176.90 H426.8 M422.5,183.30 H426.8 M422.5,189.70 H426.8 M422.5,196.10 H426.8 M418.0,202.50 H427.0 M422.5,208.90 H426.8 M422.5,215.30 H426.8 M422.5,221.70 H426.8 M422.5,228.10 H426.8 M418.0,234.50 H427.0 M422.50,231.3 V239.5 M437.20,231.1 V234.5 M451.90,231.1 V234.5 M466.60,231.1 V234.5 M481.30,231.1 V234.5 M496.00,231.3 V239.5 M510.70,231.1 V234.5 M525.40,231.1 V234.5 M540.10,231.1 V234.5 M554.80,231.1 V234.5 M569.50,231.3 V239.5 M584.20,231.1 V234.5 M598.90,231.1 V234.5 M613.60,231.1 V234.5 M628.30,231.1 V234.5 M643.00,231.3 V239.5 M657.70,231.1 V234.5 M672.40,231.1 V234.5 M687.10,231.1 V234.5 M701.80,231.1 V234.5 M716.50,231.3 V239.5" stroke="#3a3a3a" stroke-width="1.1" fill="none"/>
<g fill="#161616">
<text x="413.80" y="15.50" font-size="14" text-anchor="end" >0.7</text>
<text x="413.80" y="47.50" font-size="14" text-anchor="end" >0.6</text>
<text x="413.80" y="79.50" font-size="14" text-anchor="end" >0.5</text>
<text x="413.80" y="111.50" font-size="14" text-anchor="end" >0.4</text>
<text x="413.80" y="143.50" font-size="14" text-anchor="end" >0.3</text>
<text x="413.80" y="175.50" font-size="14" text-anchor="end" >0.2</text>
<text x="413.80" y="207.50" font-size="14" text-anchor="end" >0.1</text>
<text x="413.80" y="239.50" font-size="14" text-anchor="end" >0</text>
<text x="422.50" y="257.00" font-size="14" text-anchor="middle" >0</text>
<text x="496.00" y="257.00" font-size="14" text-anchor="middle" >10</text>
<text x="569.50" y="257.00" font-size="14" text-anchor="middle" >20</text>
<text x="643.00" y="257.00" font-size="14" text-anchor="middle" >30</text>
<text x="716.50" y="257.00" font-size="14" text-anchor="middle" >40</text>
<text x="569.50" y="275.90" font-size="14" text-anchor="middle" textLength="194" lengthAdjust="spacing">Position along the channel (nm)</text>
<text x="0.00" y="0.00" font-size="14" text-anchor="middle" transform="translate(383.5,120) rotate(-90)">Surface potential (V)</text>
<text x="0.00" y="0.00" font-size="14" text-anchor="middle" transform="translate(442.2,42) rotate(-90)">Source</text>
<text x="0.00" y="0.00" font-size="13.4" text-anchor="middle" transform="translate(689.9,32.8) rotate(90)">Drain</text>
<text x="458.90" y="33.80" font-size="14" text-anchor="start" >R = 10 nm</text>
<text x="459.80" y="55.20" font-size="14" text-anchor="start" ><tspan dy="0.00">V</tspan><tspan dy="2.20" font-size="9.5" letter-spacing="-0.3" dx="0.3">DS</tspan><tspan dy="-2.20" dx="0.6"> = 0 V</tspan></text>
<text x="459.80" y="78.40" font-size="14" text-anchor="start" ><tspan dy="0.00">V</tspan><tspan dy="2.20" font-size="9.5" letter-spacing="-0.3" dx="0.3">GS</tspan><tspan dy="-2.20" dx="0.6"> = 0 V</tspan></text>
<text x="459.60" y="101.30" font-size="14" text-anchor="start" ><tspan dy="0.00">t</tspan><tspan dy="2.20" font-size="9.5" letter-spacing="-0.3" dx="0.3">ox</tspan><tspan dy="-2.20" dx="0.6"> = 3 nm</tspan></text>
<text x="459.60" y="125.20" font-size="14" text-anchor="start" ><tspan dy="0.00">N</tspan><tspan dy="2.20" font-size="9.5" letter-spacing="-0.3" dx="0.3">A</tspan><tspan dy="-2.20" dx="0.6"> = 1 ×10</tspan><tspan dy="-8.00" font-size="9.5" letter-spacing="-0.2" dx="0.7">16</tspan><tspan dy="8.00" dx="1.2"> cm</tspan><tspan dy="-8.00" font-size="9.5" letter-spacing="-0.2" dx="0.7">-3</tspan></text>
<text x="549.00" y="30.20" font-size="14" text-anchor="start" ><tspan dy="0.00"><tspan font-size="15.2">Δ</tspan> : N</tspan><tspan dy="2.20" font-size="9.5" letter-spacing="-0.6" dx="0.3">it</tspan><tspan dy="-2.20" dx="-0.6"> = 1×10</tspan><tspan dy="-8.00" font-size="9.5" letter-spacing="-0.2" dx="0.7">16</tspan><tspan dy="8.00" dx="-1.4"> m</tspan><tspan dy="-8.00" font-size="9.5" letter-spacing="-0.2" dx="0.7">-2</tspan></text>
<text x="562.60" y="53.40" font-size="14" text-anchor="start" ><tspan dy="0.00">: N</tspan><tspan dy="2.20" font-size="9.5" letter-spacing="-0.6" dx="0.3">it</tspan><tspan dy="-2.20" dx="-0.6"> = 0</tspan></text>
<text x="549.20" y="77.80" font-size="14" text-anchor="start" ><tspan dy="0.00">O : N</tspan><tspan dy="2.20" font-size="9.5" letter-spacing="-0.6" dx="0.3">it</tspan><tspan dy="-2.20" dx="-0.6"> = -1×10</tspan><tspan dy="-8.00" font-size="9.5" letter-spacing="-0.2" dx="0.7">16</tspan><tspan dy="8.00" dx="-0.7"> m</tspan><tspan dy="-8.00" font-size="9.5" letter-spacing="-0.2" dx="0.7">-2</tspan></text>
<text x="591.50" y="200.60" font-size="14" text-anchor="start" textLength="96.8" lengthAdjust="spacing">Line : Analytical</text>
<text x="591.50" y="218.00" font-size="14" text-anchor="start" textLength="119.3" lengthAdjust="spacing">Symbol : Simulated</text>
<text x="431.60" y="223.50" font-size="14" text-anchor="start" >(b)</text>
</g>
<rect x="550.9" y="47.0" width="6.2" height="6.2" fill="none" stroke="#555" stroke-width="0.9"/>
<path d="M422.70,35.20 C422.92,38.07 423.57,47.53 424.00,52.40 C424.43,57.27 423.72,57.57 425.30,64.40 C426.88,71.23 430.82,83.68 433.50,93.40 C436.18,103.12 438.90,115.15 441.40,122.70 C443.90,130.25 446.02,133.07 448.50,138.70 C450.98,144.33 453.82,151.75 456.30,156.50 C458.78,161.25 460.85,163.63 463.40,167.20 C465.95,170.77 469.03,175.10 471.60,177.90 C474.17,180.70 476.23,180.88 478.80,184.00 C481.37,187.12 484.43,193.70 487.00,196.60 C489.57,199.50 491.67,199.83 494.20,201.40 C496.73,202.97 499.77,204.87 502.20,206.00 C504.63,207.13 506.37,207.45 508.80,208.20 C511.23,208.95 514.32,209.85 516.80,210.50 C519.28,211.15 521.32,211.68 523.70,212.10 C526.08,212.52 528.62,213.15 531.10,213.00 C533.58,212.85 536.10,211.82 538.60,211.20 C541.10,210.58 543.50,210.45 546.10,209.30 C548.70,208.15 551.62,206.05 554.20,204.30 C556.78,202.55 557.83,201.38 561.60,198.80 C565.37,196.22 573.12,191.32 576.80,188.80 C580.48,186.28 581.22,185.43 583.70,183.70 C586.18,181.97 589.18,180.00 591.70,178.40 C594.22,176.80 596.28,175.47 598.80,174.10 C601.32,172.73 604.28,171.53 606.80,170.20 C609.32,168.87 611.47,167.40 613.90,166.10 C616.33,164.80 618.83,163.68 621.40,162.40 C623.97,161.12 626.80,159.75 629.30,158.40 C631.80,157.05 633.90,155.88 636.40,154.30 C638.90,152.72 641.80,150.52 644.30,148.90 C646.80,147.28 649.03,146.27 651.40,144.60 C653.77,142.93 655.95,140.85 658.50,138.90 C661.05,136.95 663.98,135.08 666.70,132.90 C669.42,130.72 672.25,128.47 674.80,125.80 C677.35,123.13 679.50,120.17 682.00,116.90 C684.50,113.63 687.20,109.88 689.80,106.20 C692.40,102.52 695.48,98.67 697.60,94.80 C699.72,90.93 701.13,86.47 702.50,83.00 C703.87,79.53 704.58,77.62 705.80,74.00 C707.02,70.38 708.57,64.55 709.80,61.30 C711.03,58.05 712.33,57.25 713.20,54.50 C714.07,51.75 714.50,48.18 715.00,44.80 C715.50,41.42 716.00,35.97 716.20,34.20" fill="none" stroke="#1e1e1e" stroke-width="1.1"/>
<g fill="none" stroke="#1e1e1e" stroke-width="1.05"><circle cx="422.70" cy="35.20" r="2.20"/><circle cx="424.00" cy="52.40" r="2.20"/><circle cx="425.30" cy="64.40" r="2.20"/><circle cx="433.50" cy="93.40" r="2.20"/><circle cx="441.40" cy="122.70" r="2.20"/><circle cx="448.50" cy="138.70" r="2.20"/><circle cx="456.30" cy="156.50" r="2.20"/><circle cx="463.40" cy="167.20" r="2.20"/><circle cx="471.60" cy="177.90" r="2.20"/><circle cx="478.80" cy="184.00" r="2.20"/><circle cx="487.00" cy="196.60" r="2.20"/><circle cx="494.20" cy="201.40" r="2.20"/><circle cx="502.20" cy="206.00" r="2.20"/><circle cx="508.80" cy="208.20" r="2.20"/><circle cx="516.80" cy="210.50" r="2.20"/><circle cx="523.70" cy="212.10" r="2.20"/><circle cx="531.10" cy="213.00" r="2.20"/><circle cx="538.60" cy="211.20" r="2.20"/><circle cx="546.10" cy="209.30" r="2.20"/><circle cx="554.20" cy="204.30" r="2.20"/><circle cx="561.60" cy="198.80" r="2.20"/><circle cx="564.13" cy="197.13" r="2.20"/><circle cx="566.67" cy="195.47" r="2.20"/><circle cx="569.20" cy="193.80" r="2.20"/><circle cx="571.73" cy="192.13" r="2.20"/><circle cx="574.27" cy="190.47" r="2.20"/><circle cx="576.80" cy="188.80" r="2.20"/><circle cx="583.70" cy="183.70" r="2.20"/><circle cx="591.70" cy="178.40" r="2.20"/><circle cx="598.80" cy="174.10" r="2.20"/><circle cx="606.80" cy="170.20" r="2.20"/><circle cx="613.90" cy="166.10" r="2.20"/><circle cx="621.40" cy="162.40" r="2.20"/><circle cx="629.30" cy="158.40" r="2.20"/><circle cx="636.40" cy="154.30" r="2.20"/><circle cx="644.30" cy="148.90" r="2.20"/><circle cx="651.40" cy="144.60" r="2.20"/><circle cx="658.50" cy="138.90" r="2.20"/><circle cx="666.70" cy="132.90" r="2.20"/><circle cx="674.80" cy="125.80" r="2.20"/><circle cx="682.00" cy="116.90" r="2.20"/><circle cx="689.80" cy="106.20" r="2.20"/><circle cx="697.60" cy="94.80" r="2.20"/><circle cx="702.50" cy="83.00" r="2.20"/><circle cx="705.80" cy="74.00" r="2.20"/><circle cx="709.80" cy="61.30" r="2.20"/><circle cx="713.20" cy="54.50" r="2.20"/><circle cx="715.00" cy="44.80" r="2.20"/><circle cx="716.20" cy="34.20" r="2.20"/></g>
<path d="M422.70,35.20 C422.92,38.07 423.57,47.53 424.00,52.40 C424.43,57.27 423.72,57.57 425.30,64.40 C426.88,71.23 430.82,83.68 433.50,93.40 C436.18,103.12 438.90,115.15 441.40,122.70 C443.90,130.25 446.02,133.07 448.50,138.70 C450.98,144.33 453.82,151.75 456.30,156.50 C458.78,161.25 460.85,163.63 463.40,167.20 C465.95,170.77 469.03,175.10 471.60,177.90 C474.17,180.70 476.23,181.28 478.80,184.00 C481.37,186.72 484.43,191.70 487.00,194.20 C489.57,196.70 491.67,197.65 494.20,199.00 C496.73,200.35 499.75,201.50 502.20,202.30 C504.65,203.10 506.47,203.37 508.90,203.80 C511.33,204.23 514.33,204.70 516.80,204.90 C519.27,205.10 521.32,204.90 523.70,205.00 C526.08,205.10 528.52,205.93 531.10,205.50 C533.68,205.07 536.60,203.33 539.20,202.40 C541.80,201.47 544.20,201.55 546.70,199.90 C549.20,198.25 551.72,194.85 554.20,192.50 C556.68,190.15 557.70,190.02 561.60,185.80 C565.50,181.58 573.82,171.45 577.60,167.20 C581.38,162.95 581.87,162.48 584.30,160.30 C586.73,158.12 589.62,156.08 592.20,154.10 C594.78,152.12 597.10,150.30 599.80,148.40 C602.50,146.50 605.78,144.27 608.40,142.70 C611.02,141.13 613.13,140.28 615.50,139.00 C617.87,137.72 620.23,136.28 622.60,135.00 C624.97,133.72 627.32,132.53 629.70,131.30 C632.08,130.07 634.47,128.73 636.90,127.60 C639.33,126.47 641.75,125.73 644.30,124.50 C646.85,123.27 649.68,121.62 652.20,120.20 C654.72,118.78 656.85,117.53 659.40,116.00 C661.95,114.47 664.93,112.73 667.50,111.00 C670.07,109.27 672.33,107.57 674.80,105.60 C677.27,103.63 679.83,101.58 682.30,99.20 C684.77,96.82 687.17,94.00 689.60,91.30 C692.03,88.60 694.72,85.88 696.90,83.00 C699.08,80.12 701.03,76.92 702.70,74.00 C704.37,71.08 705.48,68.33 706.90,65.50 C708.32,62.67 710.15,58.83 711.20,57.00 C712.25,55.17 712.57,56.53 713.20,54.50 C713.83,52.47 714.50,48.18 715.00,44.80 C715.50,41.42 716.00,35.97 716.20,34.20" fill="none" stroke="#1e1e1e" stroke-width="1.1"/>
<g fill="none" stroke="#1e1e1e" stroke-width="1.05"><rect x="420.50" y="33.00" width="4.40" height="4.40"/><rect x="421.80" y="50.20" width="4.40" height="4.40"/><rect x="423.10" y="62.20" width="4.40" height="4.40"/><rect x="431.30" y="91.20" width="4.40" height="4.40"/><rect x="439.20" y="120.50" width="4.40" height="4.40"/><rect x="446.30" y="136.50" width="4.40" height="4.40"/><rect x="454.10" y="154.30" width="4.40" height="4.40"/><rect x="461.20" y="165.00" width="4.40" height="4.40"/><rect x="469.40" y="175.70" width="4.40" height="4.40"/><rect x="476.60" y="181.80" width="4.40" height="4.40"/><rect x="484.80" y="192.00" width="4.40" height="4.40"/><rect x="492.00" y="196.80" width="4.40" height="4.40"/><rect x="500.00" y="200.10" width="4.40" height="4.40"/><rect x="506.70" y="201.60" width="4.40" height="4.40"/><rect x="514.60" y="202.70" width="4.40" height="4.40"/><rect x="521.50" y="202.80" width="4.40" height="4.40"/><rect x="528.90" y="203.30" width="4.40" height="4.40"/><rect x="537.00" y="200.20" width="4.40" height="4.40"/><rect x="544.50" y="197.70" width="4.40" height="4.40"/><rect x="552.00" y="190.30" width="4.40" height="4.40"/><rect x="559.40" y="183.60" width="4.40" height="4.40"/><rect x="562.07" y="180.50" width="4.40" height="4.40"/><rect x="564.73" y="177.40" width="4.40" height="4.40"/><rect x="567.40" y="174.30" width="4.40" height="4.40"/><rect x="570.07" y="171.20" width="4.40" height="4.40"/><rect x="572.73" y="168.10" width="4.40" height="4.40"/><rect x="575.40" y="165.00" width="4.40" height="4.40"/><rect x="582.10" y="158.10" width="4.40" height="4.40"/><rect x="590.00" y="151.90" width="4.40" height="4.40"/><rect x="597.60" y="146.20" width="4.40" height="4.40"/><rect x="606.20" y="140.50" width="4.40" height="4.40"/><rect x="613.30" y="136.80" width="4.40" height="4.40"/><rect x="620.40" y="132.80" width="4.40" height="4.40"/><rect x="627.50" y="129.10" width="4.40" height="4.40"/><rect x="634.70" y="125.40" width="4.40" height="4.40"/><rect x="642.10" y="122.30" width="4.40" height="4.40"/><rect x="650.00" y="118.00" width="4.40" height="4.40"/><rect x="657.20" y="113.80" width="4.40" height="4.40"/><rect x="665.30" y="108.80" width="4.40" height="4.40"/><rect x="672.60" y="103.40" width="4.40" height="4.40"/><rect x="680.10" y="97.00" width="4.40" height="4.40"/><rect x="687.40" y="89.10" width="4.40" height="4.40"/><rect x="694.70" y="80.80" width="4.40" height="4.40"/><rect x="700.50" y="71.80" width="4.40" height="4.40"/><rect x="704.70" y="63.30" width="4.40" height="4.40"/><rect x="709.00" y="54.80" width="4.40" height="4.40"/><rect x="711.00" y="52.30" width="4.40" height="4.40"/><rect x="712.80" y="42.60" width="4.40" height="4.40"/><rect x="714.00" y="32.00" width="4.40" height="4.40"/></g>
<path d="M422.70,35.20 C422.92,38.07 423.57,47.53 424.00,52.40 C424.43,57.27 423.72,57.57 425.30,64.40 C426.88,71.23 430.82,83.68 433.50,93.40 C436.18,103.12 438.90,115.15 441.40,122.70 C443.90,130.25 446.02,133.07 448.50,138.70 C450.98,144.33 453.82,151.75 456.30,156.50 C458.78,161.25 460.85,163.63 463.40,167.20 C465.95,170.77 469.03,175.10 471.60,177.90 C474.17,180.70 476.23,181.85 478.80,184.00 C481.37,186.15 484.43,188.97 487.00,190.80 C489.57,192.63 491.67,193.63 494.20,195.00 C496.73,196.37 499.70,198.17 502.20,199.00 C504.70,199.83 506.73,199.63 509.20,200.00 C511.67,200.37 514.48,201.22 517.00,201.20 C519.52,201.18 521.93,200.22 524.30,199.90 C526.67,199.58 528.67,200.12 531.20,199.30 C533.73,198.48 536.87,196.52 539.50,195.00 C542.13,193.48 544.58,192.37 547.00,190.20 C549.42,188.03 551.77,185.37 554.00,182.00 C556.23,178.63 556.25,175.65 560.40,170.00 C564.55,164.35 574.88,153.02 578.90,148.10 C582.92,143.18 582.28,143.30 584.50,140.50 C586.72,137.70 589.65,133.93 592.20,131.30 C594.75,128.67 597.25,126.70 599.80,124.70 C602.35,122.70 604.97,120.83 607.50,119.30 C610.03,117.77 612.55,116.85 615.00,115.50 C617.45,114.15 619.72,112.52 622.20,111.20 C624.68,109.88 627.42,108.82 629.90,107.60 C632.38,106.38 634.70,105.02 637.10,103.90 C639.50,102.78 641.82,101.92 644.30,100.90 C646.78,99.88 649.53,98.80 652.00,97.80 C654.47,96.80 656.60,95.93 659.10,94.90 C661.60,93.87 664.43,92.65 667.00,91.60 C669.57,90.55 672.05,89.67 674.50,88.60 C676.95,87.53 679.23,86.38 681.70,85.20 C684.17,84.02 686.75,83.03 689.30,81.50 C691.85,79.97 694.77,78.15 697.00,76.00 C699.23,73.85 701.05,70.82 702.70,68.60 C704.35,66.38 705.48,64.87 706.90,62.70 C708.32,60.53 710.15,56.97 711.20,55.60 C712.25,54.23 712.57,56.30 713.20,54.50 C713.83,52.70 714.50,48.18 715.00,44.80 C715.50,41.42 716.00,35.97 716.20,34.20" fill="none" stroke="#1e1e1e" stroke-width="1.1"/>
<g fill="none" stroke="#1e1e1e" stroke-width="1.05"><path d="M422.70,33.10 L425.60,38.10 L419.80,38.10 Z"/><path d="M424.00,50.30 L426.90,55.30 L421.10,55.30 Z"/><path d="M425.30,62.30 L428.20,67.30 L422.40,67.30 Z"/><path d="M433.50,91.30 L436.40,96.30 L430.60,96.30 Z"/><path d="M441.40,120.60 L444.30,125.60 L438.50,125.60 Z"/><path d="M448.50,136.60 L451.40,141.60 L445.60,141.60 Z"/><path d="M456.30,154.40 L459.20,159.40 L453.40,159.40 Z"/><path d="M463.40,165.10 L466.30,170.10 L460.50,170.10 Z"/><path d="M471.60,175.80 L474.50,180.80 L468.70,180.80 Z"/><path d="M478.80,181.90 L481.70,186.90 L475.90,186.90 Z"/><path d="M487.00,188.70 L489.90,193.70 L484.10,193.70 Z"/><path d="M494.20,192.90 L497.10,197.90 L491.30,197.90 Z"/><path d="M502.20,196.90 L505.10,201.90 L499.30,201.90 Z"/><path d="M509.20,197.90 L512.10,202.90 L506.30,202.90 Z"/><path d="M517.00,199.10 L519.90,204.10 L514.10,204.10 Z"/><path d="M524.30,197.80 L527.20,202.80 L521.40,202.80 Z"/><path d="M531.20,197.20 L534.10,202.20 L528.30,202.20 Z"/><path d="M539.50,192.90 L542.40,197.90 L536.60,197.90 Z"/><path d="M547.00,188.10 L549.90,193.10 L544.10,193.10 Z"/><path d="M554.00,179.90 L556.90,184.90 L551.10,184.90 Z"/><path d="M560.40,167.90 L563.30,172.90 L557.50,172.90 Z"/><path d="M563.48,164.25 L566.38,169.25 L560.58,169.25 Z"/><path d="M566.57,160.60 L569.47,165.60 L563.67,165.60 Z"/><path d="M569.65,156.95 L572.55,161.95 L566.75,161.95 Z"/><path d="M572.73,153.30 L575.63,158.30 L569.83,158.30 Z"/><path d="M575.82,149.65 L578.72,154.65 L572.92,154.65 Z"/><path d="M578.90,146.00 L581.80,151.00 L576.00,151.00 Z"/><path d="M584.50,138.40 L587.40,143.40 L581.60,143.40 Z"/><path d="M592.20,129.20 L595.10,134.20 L589.30,134.20 Z"/><path d="M599.80,122.60 L602.70,127.60 L596.90,127.60 Z"/><path d="M607.50,117.20 L610.40,122.20 L604.60,122.20 Z"/><path d="M615.00,113.40 L617.90,118.40 L612.10,118.40 Z"/><path d="M622.20,109.10 L625.10,114.10 L619.30,114.10 Z"/><path d="M629.90,105.50 L632.80,110.50 L627.00,110.50 Z"/><path d="M637.10,101.80 L640.00,106.80 L634.20,106.80 Z"/><path d="M644.30,98.80 L647.20,103.80 L641.40,103.80 Z"/><path d="M652.00,95.70 L654.90,100.70 L649.10,100.70 Z"/><path d="M659.10,92.80 L662.00,97.80 L656.20,97.80 Z"/><path d="M667.00,89.50 L669.90,94.50 L664.10,94.50 Z"/><path d="M674.50,86.50 L677.40,91.50 L671.60,91.50 Z"/><path d="M681.70,83.10 L684.60,88.10 L678.80,88.10 Z"/><path d="M689.30,79.40 L692.20,84.40 L686.40,84.40 Z"/><path d="M697.00,73.90 L699.90,78.90 L694.10,78.90 Z"/><path d="M702.70,66.50 L705.60,71.50 L699.80,71.50 Z"/><path d="M706.90,60.60 L709.80,65.60 L704.00,65.60 Z"/><path d="M711.20,53.50 L714.10,58.50 L708.30,58.50 Z"/><path d="M713.20,52.40 L716.10,57.40 L710.30,57.40 Z"/><path d="M715.00,42.70 L717.90,47.70 L712.10,47.70 Z"/><path d="M716.20,32.10 L719.10,37.10 L713.30,37.10 Z"/></g>
</svg>
</body></html>
